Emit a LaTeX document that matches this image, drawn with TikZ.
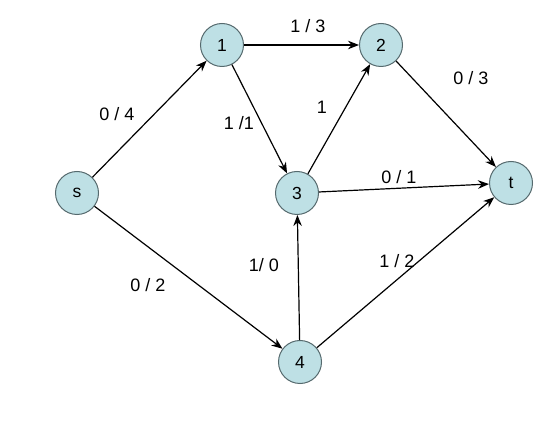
\documentclass[tikz,border=0pt]{standalone}
\usepackage{fontspec}
\setmainfont{Liberation Sans}
\usetikzlibrary{arrows.meta}
\definecolor{nodefill}{HTML}{BEE0E5}
\definecolor{nodeline}{HTML}{566A6E}
\begin{document}
\begin{tikzpicture}[x=1pt,y=-1pt,
  vert/.style={circle,draw=nodeline,fill=nodefill,line width=1pt,minimum size=43pt,inner sep=0pt,font=\fontsize{17.5}{20}\selectfont},
  edge/.style={draw=black,line width=1.2pt,-{Stealth[length=11pt,width=8.5pt]}},
  lbl/.style={font=\fontsize{18}{21}\selectfont,inner sep=0pt}]
\useasboundingbox (0,0) rectangle (560,430);
\fill[white] (0,0) rectangle (560,430);
\node[vert] (s) at (77,193) {s};
\node[vert] (n1) at (222,45) {1};
\node[vert] (n2) at (381,45) {2};
\node[vert] (n3) at (297,193) {3};
\node[vert] (t) at (511,183) {t};
\node[vert] (n4) at (300,362) {4};
\draw[edge] (s) -- (n1);
\draw[edge] (n1) -- (n2);
\draw[edge] (n1) -- (n3);
\draw[edge] (n3) -- (n2);
\draw[edge] (n2) -- (t);
\draw[edge] (n3) -- (t);
\draw[edge] (s) -- (n4);
\draw[edge] (n4) -- (n3);
\draw[edge] (n4) -- (t);
\node[lbl] (l1) at (117,114) {0 / 4};
\node[lbl] (l2) at (239,123) {1 /1};
\node[lbl] (l3) at (308,26) {1 / 3};
\node[lbl] (l4) at (471,78) {0 / 3};
\node[lbl] (l5) at (322,107) {1};
\node[lbl] (l6) at (399,177) {0 / 1};
\node[lbl] (l7) at (148,285) {0 / 2};
\node[lbl] (l8) at (264,265) {1/ 0};
\node[lbl] (l9) at (397,261) {1 / 2};
\end{tikzpicture}
\end{document}
